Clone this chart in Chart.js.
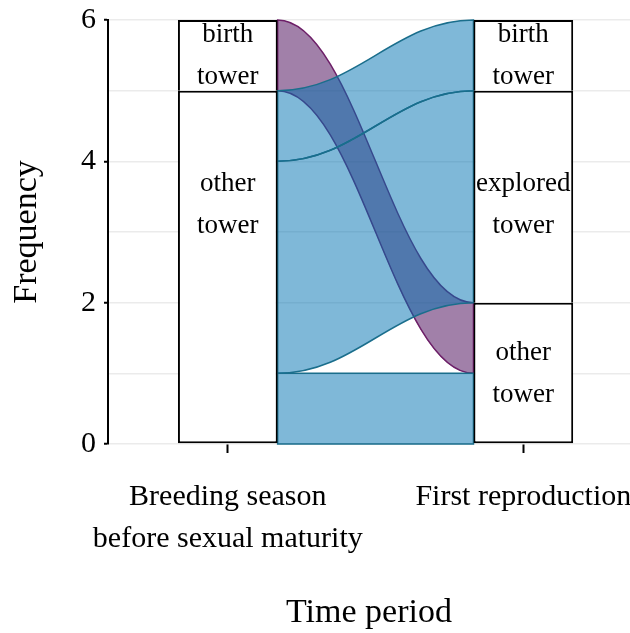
<!DOCTYPE html>
<html><head><meta charset="utf-8">
<script src="https://cdn.jsdelivr.net/npm/chart.js@4"></script>
<style>html,body{margin:0;padding:0;background:#fff}#wrap{width:630px;height:633px}</style>
</head><body><div id="wrap"><canvas id="c" width="630" height="633"></canvas></div>
<script>
// ---- data ----
const periods = [["Breeding season", "before sexual maturity"], ["First reproduction"]];
const periodX = [1, 2];
const strata = ["other tower", "explored tower", "birth tower"];
const countsPeriod1 = [5, null, 1];
const countsPeriod2 = [2, 3, 1];
const flowFrom = ["other tower", "other tower", "other tower", "birth tower"];
const flowTo = ["other tower", "explored tower", "birth tower", "other tower"];
const flowCount = [1, 3, 1, 1];
const labelAtPeriod1 = [3.4, null, 5.5];
const labelAtPeriod2 = [1, 3.4, 5.5];
const yTickValues = [0, 2, 4, 6];

// ---- style ----
const FAM = '"Liberation Serif", "Times New Roman", serif';
const flowFill = { "other tower": "rgba(0,114,178,0.5)", "birth tower": "rgba(68,1,84,0.5)" };
const flowStroke = { "other tower": "#1a6e8c", "birth tower": "#6d1f68" };
const knot = 0.4;

const flowPlugin = {
  id: 'flows',
  beforeDatasetsDraw(chart) {
    const { ctx } = chart;
    const y = chart.scales.y;
    const counts = [countsPeriod1, countsPeriod2];
    const bottoms = counts.map(c => { let a = 0; return c.map(v => { const b = a; a += (v || 0); return b; }); });
    const m0 = chart.getDatasetMeta(0);
    const e1 = m0.data[0], e2 = m0.data[1];
    const xL = e1.x + e1.width / 2, xR = e2.x - e2.width / 2;
    const fi = flowFrom.map(s => strata.indexOf(s)), ti = flowTo.map(s => strata.indexOf(s));
    const idx = flowCount.map((_, i) => i);
    const sY = [], eY = [];
    const a1 = bottoms[0].slice();
    idx.slice().sort((a, b) => fi[a] - fi[b] || ti[a] - ti[b]).forEach(i => { sY[i] = a1[fi[i]]; a1[fi[i]] += flowCount[i]; });
    const a2 = bottoms[1].slice();
    idx.slice().sort((a, b) => ti[a] - ti[b] || fi[a] - fi[b]).forEach(i => { eY[i] = a2[ti[i]]; a2[ti[i]] += flowCount[i]; });
    const c1 = xL + (xR - xL) * knot, c2 = xR - (xR - xL) * knot;
    ctx.save();
    idx.slice().sort((a, b) => fi[b] - fi[a]).forEach(i => {
      const y0b = y.getPixelForValue(sY[i]), y0t = y.getPixelForValue(sY[i] + flowCount[i]);
      const y1b = y.getPixelForValue(eY[i]), y1t = y.getPixelForValue(eY[i] + flowCount[i]);
      ctx.beginPath();
      ctx.moveTo(xL, y0t);
      ctx.bezierCurveTo(c1, y0t, c2, y1t, xR, y1t);
      ctx.lineTo(xR, y1b);
      ctx.bezierCurveTo(c2, y1b, c1, y0b, xL, y0b);
      ctx.closePath();
      ctx.fillStyle = flowFill[flowFrom[i]];
      ctx.fill();
      ctx.lineWidth = 1.5;
      ctx.strokeStyle = flowStroke[flowFrom[i]];
      ctx.stroke();
    });
    ctx.restore();
  },
  afterDatasetsDraw(chart) {
    const { ctx } = chart;
    const y = chart.scales.y;
    const labelAt = [labelAtPeriod1, labelAtPeriod2];
    ctx.save();
    ctx.font = '27px ' + FAM;
    ctx.fillStyle = '#000';
    ctx.textAlign = 'center';
    ctx.textBaseline = 'middle';
    strata.forEach((s, i) => {
      const meta = chart.getDatasetMeta(i);
      meta.data.forEach((el, j) => {
        const v = labelAt[j][i];
        if (v == null) return;
        const yc = y.getPixelForValue(v);
        const lines = s.split(' ');
        lines.forEach((t, k) => ctx.fillText(t, el.x, yc + 1 + (k - (lines.length - 1) / 2) * 42));
      });
    });
    ctx.restore();
  }
};

new Chart(document.getElementById('c'), {
  type: 'bar',
  data: {
    datasets: strata.map((s, i) => ({
      label: s,
      data: [{ x: periodX[0], y: countsPeriod1[i] }, { x: periodX[1], y: countsPeriod2[i] }],
      backgroundColor: '#ffffff',
      borderColor: '#000000',
      borderWidth: 2,
      borderSkipped: i === 0 ? false : 'bottom',
      categoryPercentage: 1,
      barPercentage: 0.3374
    }))
  },
  options: {
    responsive: false,
    devicePixelRatio: 1,
    animation: false,
    layout: { padding: { top: 20, right: 0, left: 0, bottom: 0 } },
    plugins: { legend: { display: false }, tooltip: { enabled: false } },
    scales: {
      x: {
        type: 'linear', min: 0.5946, max: 2.361, offset: false, stacked: true,
        grid: { display: true, drawOnChartArea: false, offset: false, tickLength: 9, tickColor: '#000', tickWidth: 2 },
        border: { display: false },
        afterBuildTicks: s => { s.ticks = periodX.map(v => ({ value: v })); },
        ticks: { callback: (v, i) => periods[i], font: { family: FAM, size: 30, lineHeight: 1.4 }, color: '#000', padding: 23, maxRotation: 0, autoSkip: false },
        title: { display: true, text: 'Time period', font: { family: FAM, size: 34 }, color: '#000', padding: { top: 0, bottom: 0 } },
        afterFit: s => { s.height = 189; s.paddingLeft = 0; s.paddingRight = 0; }
      },
      y: {
        type: 'linear', min: 0, max: 6, stacked: true,
        ticks: { stepSize: 1, callback: v => yTickValues.includes(v) ? String(v) : '', font: { family: FAM, size: 30 }, color: '#000', padding: 8 },
        grid: { color: '#ebebeb', lineWidth: 1.5, tickLength: 4, tickWidth: 2, tickColor: c => (c.tick && yTickValues.includes(c.tick.value)) ? '#000' : 'rgba(0,0,0,0)' },
        border: { display: true, color: '#000', width: 2 },
        title: { display: true, text: 'Frequency', font: { family: FAM, size: 34 }, color: '#000', padding: { top: 7, bottom: 0 } },
        afterFit: s => { s.width = 108; s.paddingTop = 0; s.paddingBottom = 0; }
      }
    }
  },
  plugins: [flowPlugin]
});
</script></body></html>
